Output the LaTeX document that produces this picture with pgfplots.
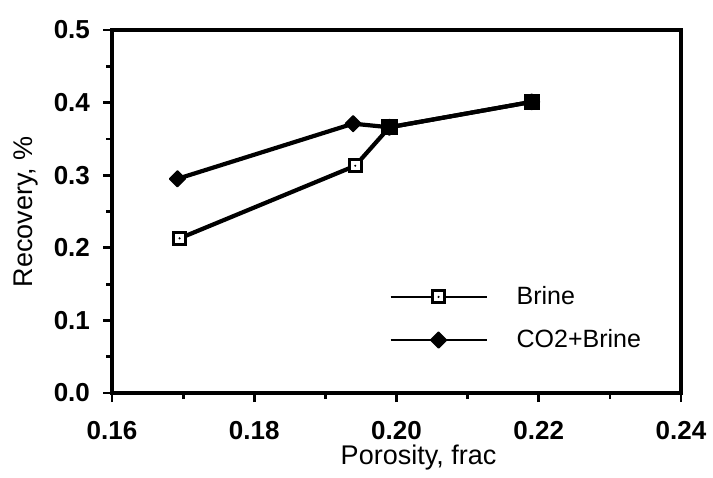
\documentclass[border=0pt]{standalone}
\usepackage{pgfplots}
\pgfplotsset{compat=1.18}
\usepackage{fontspec}
\setmainfont{Liberation Sans}

% open square with a dot in the middle
\pgfdeclareplotmark{sqdot}{%
  \pgfsetlinewidth{1.6pt}%
  \pgfpathrectangle{\pgfqpoint{-\pgfplotmarksize}{-\pgfplotmarksize}}{\pgfqpoint{2\pgfplotmarksize}{2\pgfplotmarksize}}%
  \pgfusepathqfillstroke
  \begin{pgfscope}
  \pgfsetfillcolor{black}%
  \pgfpathcircle{\pgfpointorigin}{0.6pt}%
  \pgfusepathqfill
  \end{pgfscope}
}
% plump filled diamond
\pgfdeclareplotmark{fatdiamond}{%
  \pgfsetlinewidth{0.8pt}%
  \pgfsetroundjoin
  \pgfpathmoveto{\pgfqpoint{0pt}{\pgfplotmarksize}}%
  \pgfpathlineto{\pgfqpoint{\pgfplotmarksize}{0pt}}%
  \pgfpathlineto{\pgfqpoint{0pt}{-\pgfplotmarksize}}%
  \pgfpathlineto{\pgfqpoint{-\pgfplotmarksize}{0pt}}%
  \pgfpathclose
  \pgfusepathqfillstroke
}

\begin{document}
\begin{tikzpicture}
\begin{axis}[
  scale only axis,
  width=284.5pt, height=181.5pt,
  xmin=0.16, xmax=0.24, ymin=0, ymax=0.5,
  xtick={0.16,0.18,0.20,0.22,0.24},
  ytick={0,0.1,0.2,0.3,0.4,0.5},
  minor x tick num=1, minor y tick num=1,
  tick align=outside, xtick pos=bottom, ytick pos=left,
  major tick length=4.5pt, minor tick length=3pt,
  axis line style={line width=1.8pt},
  every tick/.style={black, line width=1.4pt},
  /pgf/number format/assume math mode=true,
  x tick label style={/pgf/number format/.cd, fixed, fixed zerofill, precision=2},
  y tick label style={/pgf/number format/.cd, fixed, fixed zerofill, precision=1},
  tick label style={font=\fontsize{13}{15}\selectfont\bfseries},
  xticklabel shift=6pt,
  yticklabel shift=3pt,
  xlabel={Porosity, frac}, ylabel={Recovery, \%},
  label style={font=\fontsize{13.5}{16}\selectfont},
  xlabel style={at={(rel axis cs:0.5,0)}, anchor=center, xshift=11pt, yshift=-32.5pt},
  ylabel style={at={(rel axis cs:0,0.5)}, anchor=center, yshift=43pt},
  legend style={draw=none, fill=none, at={(0.476,0.317)}, anchor=north west,
    font=\fontsize{12.5}{15}\selectfont, row sep=7pt},
  legend cell align=left,
  legend image code/.code={%
    \draw[mark repeat=2, mark phase=2, #1, line width=1.3pt] plot coordinates {(0pt,0pt) (24pt,0pt) (48pt,0pt)};
    \path (60pt,0pt);},
]
\addplot[black, line width=2.1pt, mark=sqdot, mark size=3pt,
  mark options={solid, fill=white}]
  coordinates {(0.1695,0.213) (0.1942,0.313) (0.199,0.366) (0.219,0.401)};
\addlegendentry{Brine}
\addplot[black, line width=2.1pt, mark=fatdiamond, mark size=3.9pt,
  mark options={solid, fill=black}]
  coordinates {(0.1692,0.295) (0.1939,0.371) (0.199,0.366) (0.219,0.401)};
\addlegendentry{CO2+Brine}
% points where both series meet
\addplot[only marks, black, mark=square*, mark size=3.8pt, forget plot]
  coordinates {(0.199,0.366) (0.219,0.401)};
\end{axis}
\path ([xshift=-56pt, yshift=15pt]current axis.north west);
\path ([yshift=-42pt]current axis.south);
\end{tikzpicture}
\end{document}
